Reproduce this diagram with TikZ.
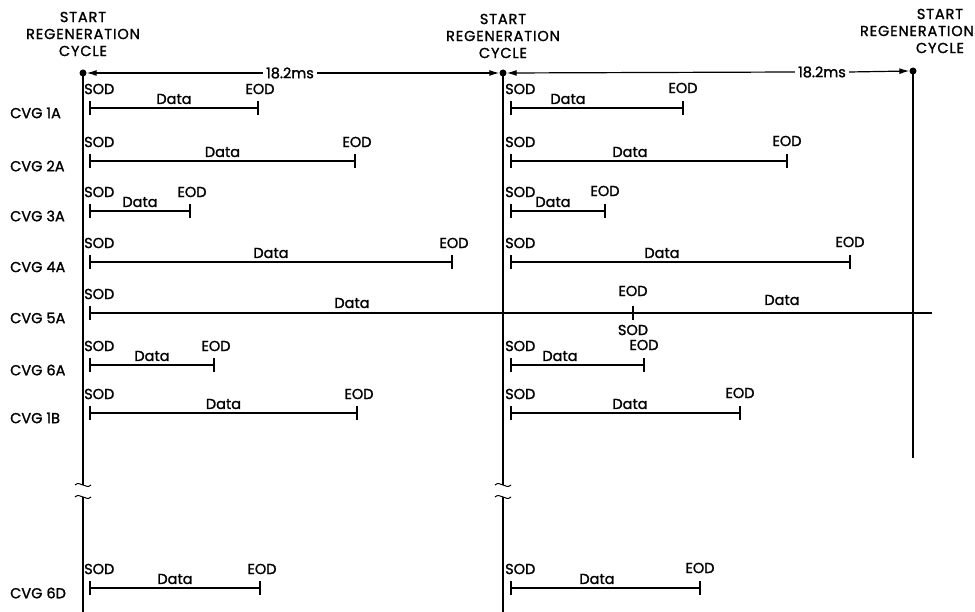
\documentclass[tikz,border=0pt]{standalone}
\usepackage{fontspec}
\setmainfont{Poppins}
\newfontfamily\pop{Poppins}[FakeBold=1.4]
\newfontfamily\pophead{Poppins}[FakeBold=1.4, LetterSpace=6]
\usetikzlibrary{arrows.meta}
\begin{document}
\begin{tikzpicture}[x=1pt,y=-1pt,
  txt/.style={font=\pop\fontsize{14.5}{16}\selectfont, inner sep=0pt, text=black},
  head/.style={font=\pophead\fontsize{14.5}{17}\selectfont, inner sep=0pt, align=center},
  vline/.style={line width=1.4pt},
  wire/.style={line width=1.2pt},
  tickmark/.style={line width=1.2pt},
  arr/.style={line width=1.2pt,-{Latex[length=10pt,width=6pt]}},
  dot/.style={circle, fill=black, inner sep=0pt, minimum size=7pt}]
\useasboundingbox (0,0) rectangle (975,612);

% headers
\node[head] (h1) at (83,34) {START\\REGENERATION\\CYCLE};
\node[head] (h2) at (503,36) {START\\REGENERATION\\CYCLE};
\node[head] (h3a) at (940,14) {START};
\node[head, anchor=east] (h3b) at (974,31) {REGENERATION};
\node[head] (h3c) at (940,48) {CYCLE};

% dots
\node[dot] (d1) at (83,73) {};
\node[dot] (d2) at (503,73) {};
\node[dot] (d3) at (913,71) {};

% 18.2ms arrows
\node[txt] (t1) at (290,73) {18.2ms};
\node[txt] (t2) at (822,72) {18.2ms};
\draw[arr] ([xshift=-3pt]t1.west) -- (d1.east);
\draw[arr] ([xshift=3pt]t1.east) -- (d2.west);
\draw[arr] ([xshift=-3pt]t2.west) -- (d2.east);
\draw[arr] ([xshift=3pt]t2.east) -- (d3.west);

% vertical lines with breaks
\coordinate (b1a) at (83,485); \coordinate (b1b) at (83,497);
\coordinate (b2a) at (503,485); \coordinate (b2b) at (503,497);
\coordinate (e1) at (83,612); \coordinate (e2) at (503,612);
\coordinate (e3) at (913,458);
\draw[vline] (d1.center) -- (b1a);
\draw[vline] (b1b) -- (e1);
\draw[vline] (d2.center) -- (b2a);
\draw[vline] (b2b) -- (e2);
\draw[vline] (d3.center) -- (e3);
\foreach \c in {b1a,b1b,b2a,b2b}{
  \draw[line width=1pt] ([xshift=-8pt]\c) .. controls ([xshift=-3pt,yshift=5pt]\c) and ([xshift=3pt,yshift=-5pt]\c) .. ([xshift=8pt]\c);
}

% regular rows: name / y / left end / mid end / mid Data x
\foreach \n/\y/\L/\M/\MD in {1A/108/258/683/568, 2A/161/355/787/630, 3A/211/190/605/553, 4A/262/452/850/662, 6A/365/214/644/560, 1B/413/357/740/630, 6D/588/260/700/597}{
  \node[txt, anchor=west] (lab\n) at (10,\y+5) {CVG\hspace{4pt}\n};
  % left cycle
  \coordinate (ls\n) at (90,\y); \coordinate (le\n) at (\L,\y);
  \draw[wire] (ls\n) -- (le\n);
  \draw[tickmark] ([yshift=-7pt]ls\n) -- ([yshift=7pt]ls\n);
  \draw[tickmark] ([yshift=-7pt]le\n) -- ([yshift=7pt]le\n);
  \node[txt, anchor=west] (lsod\n) at (84,\y-19) {SOD};
  \node[txt] (leod\n) at (\L+2,\y-19) {EOD};
  \node[txt] (ldat\n) at ({(90+\L)/2},\y-9) {Data};
  % middle cycle
  \coordinate (ms\n) at (511,\y); \coordinate (me\n) at (\M,\y);
  \draw[wire] (ms\n) -- (me\n);
  \draw[tickmark] ([yshift=-7pt]ms\n) -- ([yshift=7pt]ms\n);
  \draw[tickmark] ([yshift=-7pt]me\n) -- ([yshift=7pt]me\n);
  \node[txt, anchor=west] (msod\n) at (505,\y-19) {SOD};
  \node[txt] (meod\n) at (\M,\y-20) {EOD};
  \node[txt] (mdat\n) at (\MD,\y-9) {Data};
}

% CVG 5A row
\node[txt, anchor=west] (lab5A) at (10,318) {CVG\hspace{4pt}5A};
\coordinate (s5) at (90,313); \coordinate (m5) at (633,313); \coordinate (e5) at (932,313);
\draw[wire] (s5) -- (e5);
\draw[tickmark] ([yshift=-7pt]s5) -- ([yshift=7pt]s5);
\draw[tickmark] ([yshift=-7pt]m5) -- ([yshift=7pt]m5);
\node[txt, anchor=west] (sod5) at (84,294) {SOD};
\node[txt] (dat5a) at (352,303) {Data};
\node[txt] (eod5) at (633,291) {EOD};
\node[txt] (sod5b) at (633,330) {SOD};
\node[txt] (dat5b) at (782,300) {Data};
\end{tikzpicture}
\end{document}
